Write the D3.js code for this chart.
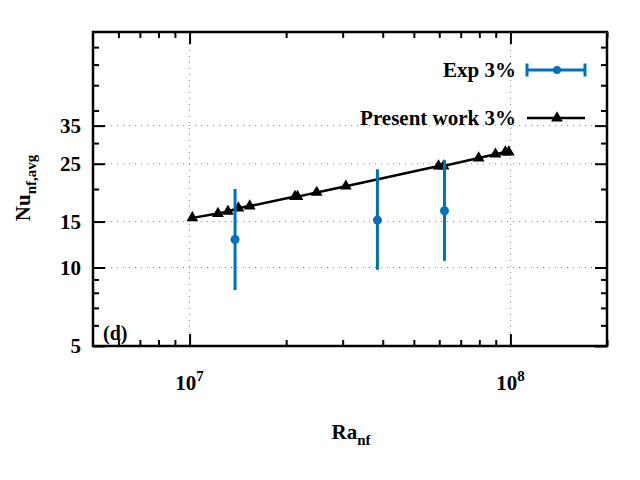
<!DOCTYPE html>
<html>
<head>
<meta charset="utf-8">
<script src="https://cdn.jsdelivr.net/npm/d3@7"></script>
<style>
  body { margin: 0; background: #fff; }
  text { font-family: "Liberation Serif", "Times New Roman", serif; font-weight: bold; }
</style>
</head>
<body>
<div id="chart"></div>
<script>
// present work (simulation) - black line with triangles
var simRa = [1.02e7, 1.226e7, 1.317e7, 1.42e7, 1.54e7, 2.13e7, 2.17e7, 2.49e7, 3.07e7, 5.97e7, 6.19e7, 7.96e7, 8.98e7, 9.64e7, 9.88e7];
var simNu = [15.5, 16.1, 16.4, 16.9, 17.2, 18.7, 18.7, 19.4, 20.5, 24.5, 24.5, 26.3, 27.2, 27.7, 27.7];

// experiment - blue points with error bars
var expRa = [1.386e7, 3.85e7, 6.23e7];
var expNu = [12.8, 15.2, 16.5];
var expLow = [8.2, 9.8, 10.6];
var expHigh = [20.0, 23.8, 25.8];

var yMajorTicks = [5, 10, 15, 25, 35];
var yMinorTicks = [6, 7, 8, 9, 20, 30, 40, 50, 60, 70];
var xMajorTicks = [1e7, 1e8];
var xMinorTicks = [6e6, 7e6, 8e6, 9e6, 2e7, 3e7, 4e7, 5e7, 6e7, 7e7, 8e7, 9e7, 2e8];
var xGrid = [1e7, 1e8];
var yGrid = [10, 15, 25, 35];

var legendLabels = ["Exp 3%", "Present work 3%"];

var blue = "#0072bd";
var fs = 21, fsSub = 15;

var margin = {top: 32, right: 33, bottom: 134, left: 93},
    width = 640 - margin.left - margin.right,
    height = 480 - margin.top - margin.bottom;

var svgRoot = d3.select("#chart")
  .append("svg")
  .attr("width", 640)
  .attr("height", 480);

var svg = svgRoot.append("g")
  .attr("transform", "translate(" + margin.left + "," + margin.top + ")");

var x = d3.scaleLog().domain([5e6, 2e8]).range([0, width]);
var y = d3.scaleLog().domain([5, 80]).range([height, 0]);

// grid
svg.append("g").selectAll("line.gx")
  .data(xGrid).enter().append("line")
  .attr("x1", d => x(d)).attr("x2", d => x(d))
  .attr("y1", 0).attr("y2", height)
  .attr("stroke", "#888").attr("stroke-width", 1)
  .attr("stroke-dasharray", "1,5");
svg.append("g").selectAll("line.gy")
  .data(yGrid).enter().append("line")
  .attr("x1", 0).attr("x2", width)
  .attr("y1", d => y(d)).attr("y2", d => y(d))
  .attr("stroke", "#888").attr("stroke-width", 1)
  .attr("stroke-dasharray", "1,5");

// ticks (inward, mirrored on all four sides)
function tickAxis(axisFn, scale, vals, len, tr) {
  var g = svg.append("g")
    .attr("transform", tr)
    .call(axisFn(scale).tickValues(vals).tickSize(-len).tickFormat(""));
  g.select(".domain").remove();
  g.selectAll(".tick line").attr("stroke", "#000").attr("stroke-width", 2);
  return g;
}
tickAxis(d3.axisBottom, x, xMajorTicks, 12, "translate(0," + height + ")");
tickAxis(d3.axisBottom, x, xMinorTicks, 6, "translate(0," + height + ")");
tickAxis(d3.axisTop, x, xMajorTicks, 12, "translate(0,0)");
tickAxis(d3.axisTop, x, xMinorTicks, 6, "translate(0,0)");
tickAxis(d3.axisLeft, y, yMajorTicks, 12, "translate(0,0)");
tickAxis(d3.axisLeft, y, yMinorTicks, 6, "translate(0,0)");
tickAxis(d3.axisRight, y, yMajorTicks, 12, "translate(" + width + ",0)");
tickAxis(d3.axisRight, y, yMinorTicks, 6, "translate(" + width + ",0)");

// tick labels
svg.append("g").selectAll("text")
  .data(yMajorTicks).enter().append("text")
  .attr("x", -12).attr("y", d => y(d)).attr("dy", "0.35em")
  .attr("text-anchor", "end").attr("font-size", fs)
  .text(d => d);

var xl = svg.append("g").selectAll("text")
  .data(xMajorTicks).enter().append("text")
  .attr("x", d => x(d)).attr("y", height + 44)
  .attr("text-anchor", "middle").attr("font-size", fs);
xl.append("tspan").text("10");
xl.append("tspan").attr("font-size", fsSub).attr("dy", -9).text(d => Math.round(Math.log10(d)));

// axis titles
var xt = svg.append("text")
  .attr("x", 258).attr("y", 407)
  .attr("text-anchor", "middle").attr("font-size", fs);
xt.append("tspan").text("Ra");
xt.append("tspan").attr("font-size", fsSub).attr("dy", 6).text("nf");

var yt = svg.append("text")
  .attr("transform", "translate(-63," + 156 + ") rotate(-90)")
  .attr("text-anchor", "middle").attr("font-size", fs);
yt.append("tspan").text("Nu");
yt.append("tspan").attr("font-size", fsSub).attr("dy", 6).text("nf,avg");

// panel tag
svg.append("text")
  .attr("x", 10).attr("y", height - 6)
  .attr("font-size", fs - 1).text("(d)");

// present work line
svg.append("path")
  .datum(simRa.map((r, i) => ({ra: r, nu: simNu[i]})))
  .attr("fill", "none")
  .attr("stroke", "#000")
  .attr("stroke-width", 2.5)
  .attr("d", d3.line().x(d => x(d.ra)).y(d => y(d.nu)));

var tri = d3.symbol().type(d3.symbolTriangle).size(60);
svg.append("g").selectAll("path")
  .data(simRa.map((r, i) => ({ra: r, nu: simNu[i]})))
  .enter().append("path")
  .attr("d", tri)
  .attr("transform", d => "translate(" + x(d.ra) + "," + y(d.nu) + ")")
  .attr("fill", "#000");

// experiment error bars + points
var expData = expRa.map((r, i) => ({ra: r, nu: expNu[i], lo: expLow[i], hi: expHigh[i]}));
svg.append("g").selectAll("line")
  .data(expData).enter().append("line")
  .attr("x1", d => x(d.ra)).attr("x2", d => x(d.ra))
  .attr("y1", d => y(d.lo)).attr("y2", d => y(d.hi))
  .attr("stroke", blue).attr("stroke-width", 3);
svg.append("g").selectAll("circle")
  .data(expData).enter().append("circle")
  .attr("cx", d => x(d.ra)).attr("cy", d => y(d.nu))
  .attr("r", 4.5).attr("fill", blue);

// legend
var lg = svg.append("g");
var lx0 = 434, lx1 = 492, lxm = 464;
lg.append("text").attr("x", 423).attr("y", 38).attr("dy", "0.35em")
  .attr("text-anchor", "end").attr("font-size", fs).text(legendLabels[0]);
lg.append("line").attr("x1", lx0).attr("x2", lx1).attr("y1", 38).attr("y2", 38)
  .attr("stroke", blue).attr("stroke-width", 3);
lg.append("line").attr("x1", lx0).attr("x2", lx0).attr("y1", 31.5).attr("y2", 44.5)
  .attr("stroke", blue).attr("stroke-width", 3);
lg.append("line").attr("x1", lx1).attr("x2", lx1).attr("y1", 31.5).attr("y2", 44.5)
  .attr("stroke", blue).attr("stroke-width", 3);
lg.append("circle").attr("cx", lxm).attr("cy", 38).attr("r", 4).attr("fill", blue);

lg.append("text").attr("x", 423).attr("y", 86).attr("dy", "0.35em")
  .attr("text-anchor", "end").attr("font-size", fs).text(legendLabels[1]);
lg.append("line").attr("x1", lx0).attr("x2", lx1).attr("y1", 86).attr("y2", 86)
  .attr("stroke", "#000").attr("stroke-width", 2.5);
lg.append("path").attr("d", tri).attr("transform", "translate(" + lxm + ",86)").attr("fill", "#000");

// frame
svg.append("rect")
  .attr("x", 0).attr("y", 0).attr("width", width).attr("height", height)
  .attr("fill", "none").attr("stroke", "#000").attr("stroke-width", 2.5);
</script>
</body>
</html>
